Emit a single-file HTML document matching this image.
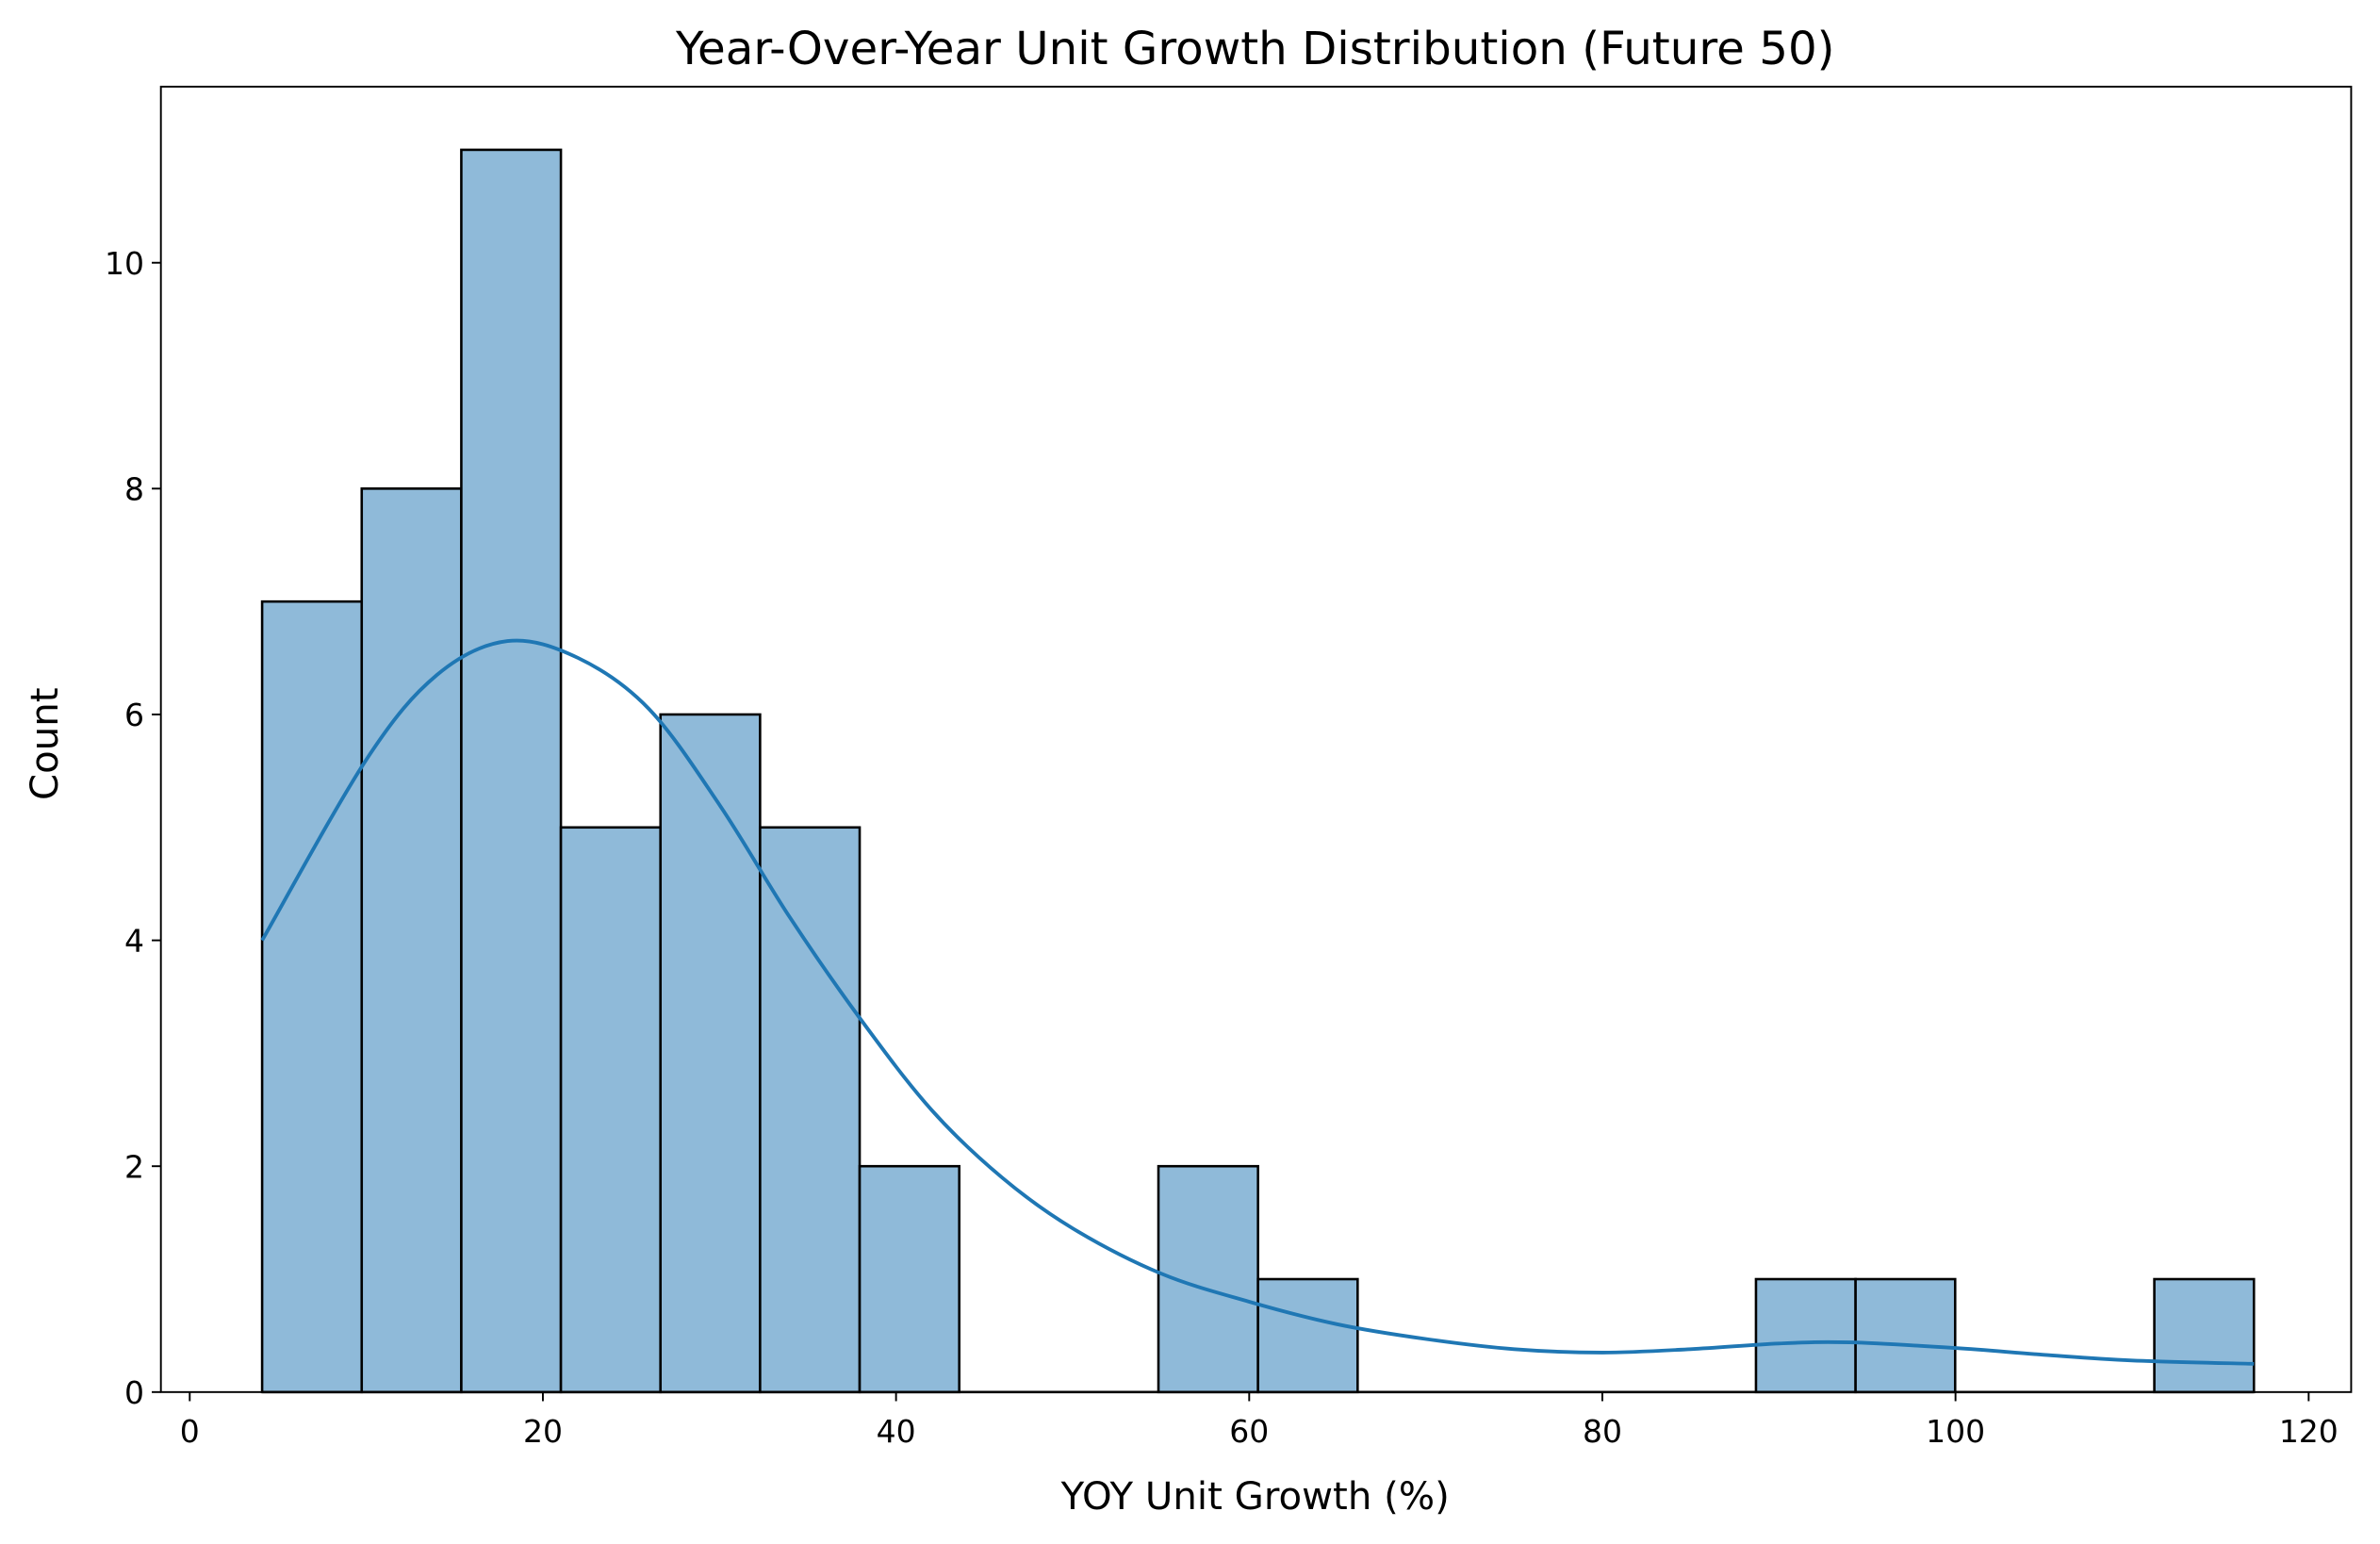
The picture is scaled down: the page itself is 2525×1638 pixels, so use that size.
<!DOCTYPE html>
<html><head><meta charset="utf-8"><style>body{margin:0;background:#fff}svg{display:block}text{font-family:"DejaVu Sans","Liberation Sans",sans-serif;fill:#000}</style></head>
<body>
<svg id="chart" width="2525" height="1638" viewBox="0 0 1568 1017" xmlns="http://www.w3.org/2000/svg">
<rect width="1568" height="1017" fill="#fff"/>
<g id="plot"></g>
<text x="827" y="42" font-size="30" text-anchor="middle">Year-Over-Year Unit Growth Distribution (Future 50)</text>
<text x="827" y="994" font-size="25" text-anchor="middle">YOY Unit Growth (%)</text>
<text x="38" y="490" font-size="25" text-anchor="middle" transform="rotate(-90 38 490)">Count</text>
</svg>
<script>
const binStart = 4.1;
const binWidth = 5.64;
const counts = [7,8,11,5,6,5,2,0,0,2,1,0,0,0,0,1,1,0,0,1];
const kdeX = [4.1,10,14,18,22,26,30,34,38,42,46,50,55,60,65,70,75,80,85,90,94,100,105,110,116.9];
const kdeY = [4.0,5.6,6.35,6.65,6.5,6.05,5.2,4.2,3.3,2.5,1.9,1.45,1.05,0.8,0.6,0.47,0.38,0.35,0.38,0.43,0.44,0.39,0.33,0.28,0.25];
const xTicks = [0,20,40,60,80,100,120];
const yTicks = [0,2,4,6,8,10];
const L=106,R=1549,T=57,B=917;
const xs = v => 125 + v*(1521-125)/120;
const ys = v => 917 - v*(917-173)/10;
const g = document.getElementById('plot');
const NS='http://www.w3.org/2000/svg';
function mk(tag, attrs){const e=document.createElementNS(NS,tag);for(const k in attrs)e.setAttribute(k,attrs[k]);g.appendChild(e);return e;}
counts.forEach((c,i)=>{
  if(c===0) return;
  const x0=xs(binStart+i*binWidth), x1=xs(binStart+(i+1)*binWidth);
  const r=mk('rect',{x:x0,y:ys(c),width:x1-x0,height:ys(0)-ys(c),fill:'#8fbad9',stroke:'#000','stroke-width':1.6});
  
  
});
const P=kdeX.map((x,i)=>[xs(x),ys(kdeY[i])]);
let d='M'+P[0][0].toFixed(2)+' '+P[0][1].toFixed(2);
for(let i=0;i<P.length-1;i++){
  const p0=P[Math.max(0,i-1)],p1=P[i],p2=P[i+1],p3=P[Math.min(P.length-1,i+2)];
  const c1=[p1[0]+(p2[0]-p0[0])/6,p1[1]+(p2[1]-p0[1])/6];
  const c2=[p2[0]-(p3[0]-p1[0])/6,p2[1]-(p3[1]-p1[1])/6];
  d+='C'+c1.map(v=>v.toFixed(2)).join(' ')+' '+c2.map(v=>v.toFixed(2)).join(' ')+' '+p2.map(v=>v.toFixed(2)).join(' ');
}
const p=mk('path',{d:d,fill:'none',stroke:'#1f77b4','stroke-width':2.4,'stroke-linejoin':'round'});


const f=mk('rect',{x:L,y:T,width:R-L,height:B-T,fill:'none',stroke:'#000','stroke-width':1.2});


mk('line',{x1:xs(binStart),x2:xs(binStart+20*binWidth),y1:B,y2:B,stroke:'#000','stroke-width':1.6});
xTicks.forEach(v=>{
  mk('line',{x1:xs(v),x2:xs(v),y1:B,y2:B+6,stroke:'#000','stroke-width':1.2});
  const t=mk('text',{x:xs(v),y:B+33,'font-size':20.5,'text-anchor':'middle'});
  t.textContent=v;
  
  
});
yTicks.forEach(v=>{
  mk('line',{x1:L,x2:L-6,y1:ys(v),y2:ys(v),stroke:'#000','stroke-width':1.2});
  const t=mk('text',{x:L-11,y:ys(v)+7.5,'font-size':20.5,'text-anchor':'end'});
  t.textContent=v;
  
  
});
</script>
</body></html>
